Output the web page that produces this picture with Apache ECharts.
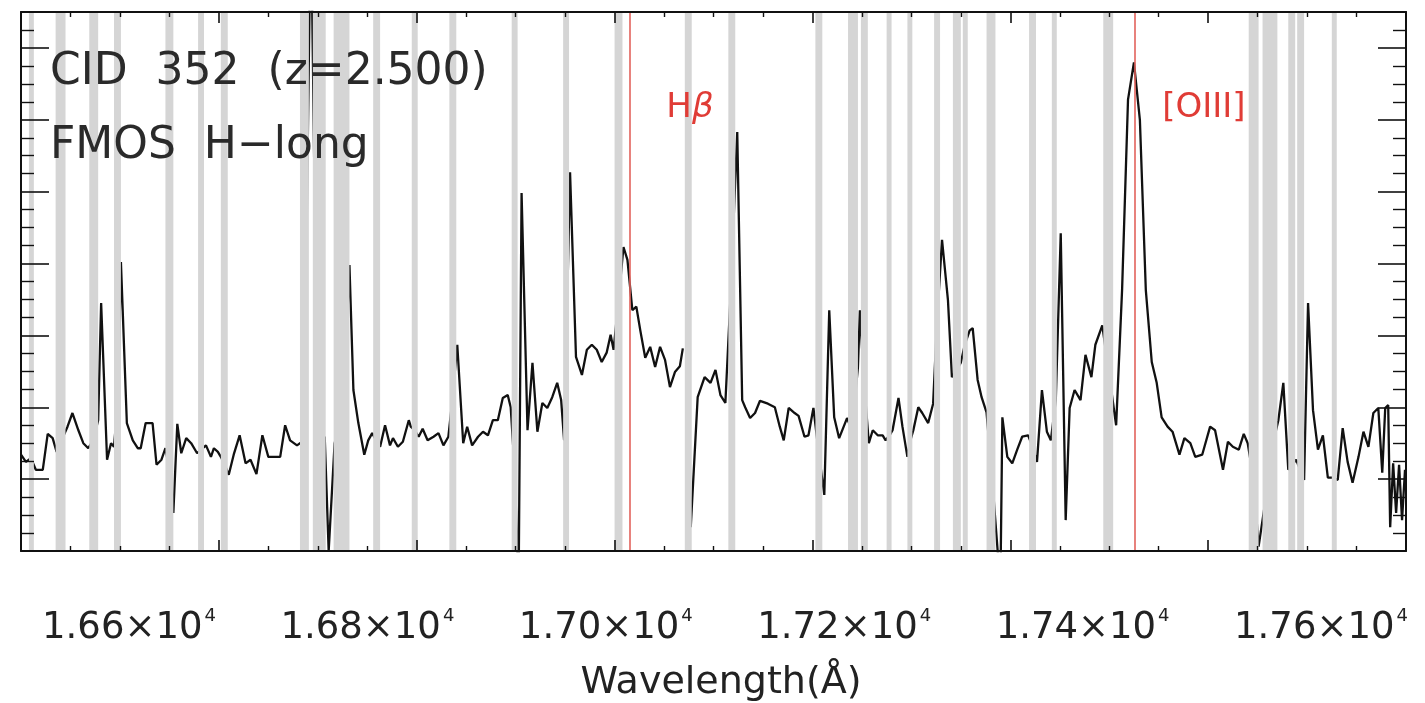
<!DOCTYPE html>
<html>
<head>
<meta charset="utf-8">
<script src="https://cdn.jsdelivr.net/npm/echarts@6/dist/echarts.min.js"></script>
<style>
  html, body { margin: 0; padding: 0; background: #fff; }
  #chart { width: 1425px; height: 703px; }
</style>
</head>
<body>
<div id="chart"></div>
<script>
// FMOS H-long spectrum of CID 352, observed wavelength in Angstrom
const wavelength = [
  16400, 16405, 16410, 16415, 16422, 16427, 16432, 16436, 16441, 16447,
  16452, 16458, 16463, 16468, 16473, 16478, 16481, 16487, 16491, 16494,
  16498, 16501, 16507, 16513, 16518, 16521, 16526, 16533, 16537, 16542,
  16546, 16550, 16554, 16558, 16562, 16567, 16572, 16578, 16582, 16587,
  16592, 16595, 16599, 16602, 16606, 16610, 16615, 16621, 16627, 16632,
  16638, 16644, 16650, 16657, 16662, 16667, 16672, 16679, 16686, 16693,
  16700, 16707, 16711, 16717, 16723, 16726, 16732, 16736, 16741, 16747,
  16751, 16755, 16759, 16763, 16768, 16773, 16776, 16781, 16786, 16792,
  16794, 16798, 16802, 16806, 16811, 16817, 16822, 16827, 16832, 16836,
  16841, 16847, 16851, 16856, 16862, 16867, 16872, 16877, 16882, 16887,
  16892, 16895, 16899, 16903, 16906, 16912, 16917, 16922, 16927, 16932,
  16937, 16942, 16946, 16949, 16955, 16961, 16967, 16972, 16977, 16982,
  16987, 16992, 16996, 16999, 17004, 17009, 17013, 17018, 17022, 17026,
  17031, 17036, 17041, 17046, 17051, 17056, 17061, 17066, 17069, 17073,
  17077, 17084, 17091, 17097, 17102, 17107, 17112, 17117, 17124, 17129,
  17132, 17137, 17142, 17147, 17155, 17162, 17167, 17171, 17176, 17182,
  17186, 17192, 17196, 17201, 17206, 17212, 17217, 17222, 17227, 17235,
  17240, 17246, 17248, 17252, 17257, 17261, 17266, 17271, 17274, 17278,
  17281, 17287, 17291, 17296, 17299, 17302, 17307, 17311, 17317, 17322,
  17326, 17331, 17337, 17341, 17346, 17350, 17354, 17359, 17362, 17367,
  17371, 17376, 17381, 17390, 17392, 17397, 17402, 17407, 17412, 17418,
  17422, 17427, 17432, 17437, 17441, 17446, 17451, 17456, 17460, 17465,
  17471, 17476, 17482, 17486, 17493, 17507, 17513, 17519, 17525, 17531,
  17537, 17543, 17548, 17553, 17559, 17564, 17571, 17576, 17582, 17587,
  17594, 17602, 17607, 17615, 17620, 17625, 17631, 17636, 17640, 17646,
  17651, 17658, 17664, 17671, 17676, 17681, 17685, 17689, 17693, 17697,
  17701, 17706, 17711, 17716, 17721, 17726, 17731, 17736, 17741, 17746,
  17752, 17757, 17762, 17767, 17772, 17776, 17779, 17782, 17784, 17787,
  17790, 17793, 17796, 17799
];
// flux density (arbitrary units); null marks a gap in the extraction
const flux = [
  1.34, 1.24, 1.29, 1.13, 1.13, 1.63, 1.57, 1.38, 1.54, 1.73,
  1.92, 1.68, 1.50, 1.43, 1.54, 1.82, 3.45, 1.27, 1.50, 1.45,
  2.10, 4.02, 1.78, 1.54, 1.43, 1.43, 1.78, 1.78, 1.20, 1.27,
  1.43, 1.13, 0.53, 1.77, 1.36, 1.57, 1.50, 1.36, 1.41, 1.47,
  1.31, 1.43, 1.38, 1.31, 1.20, 1.06, 1.34, 1.61, 1.22, 1.27,
  1.07, 1.61, 1.31, 1.31, 1.31, 1.75, 1.54, 1.47, 1.54, 9.00,
  1.54, 1.59, 0.00, 1.50, 1.82, 1.93, 3.98, 2.24, 1.78, 1.34,
  1.54, 1.64, 1.54, 1.45, 1.75, 1.47, 1.57, 1.45, 1.52, 1.82,
  1.73, 1.68, 1.59, 1.70, 1.54, 1.59, 1.64, 1.47, 1.59, 2.10,
  2.87, 1.50, 1.73, 1.47, 1.59, 1.66, 1.61, 1.82, 1.82, 2.13,
  2.17, 2.00, 1.13, -0.50, 4.98, 1.68, 2.62, 1.66, 2.06, 1.99,
  2.14, 2.34, 2.10, 1.54, 5.27, 2.70, 2.45, 2.80, 2.87, 2.80,
  2.63, 2.76, 3.01, 2.80, 3.49, 4.23, 4.05, 3.35, 3.40, 3.07,
  2.69, 2.84, 2.56, 2.84, 2.66, 2.28, 2.49, 2.57, 2.82, null,
  0.33, 2.14, 2.42, 2.34, 2.52, 2.17, 2.06, 3.49, 5.83, 2.10,
  2.00, 1.85, 1.92, 2.09, 2.05, 2.00, 1.73, 1.54, 1.99, 1.92,
  1.88, 1.59, 1.61, 1.99, 1.41, 0.78, 3.35, 1.86, 1.57, 1.85,
  1.68, 2.56, 3.35, 2.38, 1.50, 1.68, 1.61, 1.61, 1.54, 1.61,
  1.68, 2.13, 1.73, 1.31, 1.54, 1.68, 2.00, 1.92, 1.78, 2.05,
  3.21, 4.33, 3.49, 2.42, 2.52, 2.62, 2.87, 3.07, 3.10, 2.38,
  2.14, 1.93, 1.13, -0.50, 1.86, 1.31, 1.22, 1.41, 1.59, 1.61,
  1.47, 1.24, 2.24, 1.66, 1.54, 2.10, 4.42, 0.43, 1.99, 2.24,
  2.10, 2.73, 2.42, 2.87, 3.14, 1.75, 3.63, 6.28, 6.80, 6.00,
  3.63, 2.63, 2.34, 1.86, 1.73, 1.66, 1.34, 1.57, 1.50, 1.31,
  1.34, 1.73, 1.68, 1.13, 1.52, 1.45, 1.41, 1.63, 1.50, 0.99,
  0.06, 0.71, 1.41, 1.82, 2.34, 1.13, 1.20, 1.27, 1.13, 0.99,
  3.45, 1.96, 1.41, 1.61, 1.02, 1.02, 0.99, 1.71, 1.24, 0.95,
  1.31, 1.66, 1.45, 1.92, 1.99, 1.09, 1.99, 2.03, 0.33, 1.22,
  0.53, 1.20, 0.43, 1.13
];
// wavelength ranges masked for OH sky lines [start, end]
const maskBands = [
  [16408, 16413], [16435, 16445], [16469, 16478], [16494, 16501], [16546, 16554],
  [16579, 16585], [16602, 16609], [16682, 16691], [16695, 16708], [16716, 16732],
  [16756, 16763], [16795, 16801], [16833, 16840], [16896, 16902], [16948, 16954],
  [17000, 17008], [17071, 17078], [17115, 17122], [17203, 17210], [17236, 17246],
  [17249, 17256], [17275, 17280], [17296, 17301], [17323, 17329], [17342, 17350],
  [17352, 17357], [17376, 17385], [17419, 17426], [17442, 17447], [17494, 17504],
  [17641, 17651], [17655, 17670], [17681, 17688], [17690, 17697], [17725, 17730]
];
// expected line positions at z = 2.500
const emissionLines = [
  { label: 'H', greek: 'β', wave: 17015.6, dx: 60 },
  { label: '[OIII]', greek: '', wave: 17526, dx: 69 }
];
const tickValues = [16600, 16800, 17000, 17200, 17400, 17600];
const titleLines = ['CID  352  (z=2.500)', 'FMOS  H\u2212long'];

const FONT = 'DejaVu Sans';
const RED_LINE = '#e2625c';
const RED_TEXT = '#e03c36';
const X_MIN = 16400, X_MAX = 17800, Y_MIN = 0, Y_MAX = 7.5;

const chart = echarts.init(document.getElementById('chart'), null, { renderer: 'canvas' });

const spectrum = wavelength.map((w, i) => [w, flux[i] === null ? '-' : flux[i]]);

const frameAxis = (pos, majorLen, minorLen) => {
  const vertical = pos === 'left' || pos === 'right';
  return {
    type: 'value', position: pos,
    min: vertical ? Y_MIN : X_MIN, max: vertical ? Y_MAX : X_MAX,
    interval: vertical ? 1 : 200,
    z: 10,
    axisLine: { show: true, onZero: false, lineStyle: { color: '#111', width: 2 } },
    axisTick: { show: true, inside: true, length: majorLen, lineStyle: { color: '#111', width: 1.6 } },
    minorTick: { show: true, splitNumber: 4, length: minorLen, lineStyle: { color: '#111', width: 1.4 } },
    axisLabel: { show: false },
    splitLine: { show: false }
  };
};

const option = {
  animation: false,
  backgroundColor: '#ffffff',
  grid: { left: 21, top: 12, width: 1385, height: 539, containLabel: false, outerBoundsMode: 'none' },
  xAxis: [
    frameAxis('bottom', 11, 5),
    frameAxis('top', 11, 5),
    {
      type: 'value', position: 'bottom', min: 16509.4, max: 17671.3,
      axisLine: { show: false }, axisTick: { show: false }, splitLine: { show: false },
      axisLabel: {
        show: true, margin: 56, customValues: tickValues,
        formatter: v => '{m|' + (v / 1e4).toFixed(2) + '×10}{s|4}',
        rich: {
          m: { fontFamily: FONT, fontSize: 37, color: '#222', lineHeight: 42 },
          s: { fontFamily: FONT, fontSize: 18, color: '#222', lineHeight: 42, verticalAlign: 'top', padding: [0, 0, 16, 2] }
        }
      },
      name: 'Wavelength(Å)', nameLocation: 'middle', nameGap: 113,
      nameTextStyle: { fontFamily: FONT, fontSize: 38, color: '#222', padding: [0, 0, 0, 15] }
    }
  ],
  yAxis: [frameAxis('left', 28, 13), frameAxis('right', 28, 13)],
  series: [
    {
      type: 'line', name: 'spectrum', data: spectrum, xAxisIndex: 0, yAxisIndex: 0,
      showSymbol: false, connectNulls: false, clip: true, z: 2,
      lineStyle: { color: '#111', width: 2.3 },
      markLine: {
        silent: true, symbol: ['none', 'none'], z: 6,
        label: { show: false },
        lineStyle: { color: RED_LINE, width: 1.6, type: 'solid' },
        data: emissionLines.map(l => ({ xAxis: l.wave }))
      }
    },
    {
      type: 'custom', name: 'masked', data: maskBands, xAxisIndex: 0, yAxisIndex: 0, z: 4,
      encode: { x: [0, 1] }, silent: true,
      renderItem: (params, api) => {
        const a = api.coord([api.value(0), Y_MAX]);
        const b = api.coord([api.value(1), Y_MIN]);
        return {
          type: 'rect',
          shape: { x: a[0], y: a[1], width: b[0] - a[0], height: b[1] - a[1] },
          style: { fill: '#d5d5d5' }
        };
      }
    }
  ]
};
chart.setOption(option);

// annotations: target name and the emission-line labels
const labels = [
  { type: 'text', left: 50, top: 51, z: 20,
    style: { text: titleLines[0], font: '44px "' + FONT + '"', fill: '#2a2a2a' } },
  { type: 'text', left: 50, top: 125, z: 20,
    style: { text: titleLines[1], font: '44px "' + FONT + '"', fill: '#2a2a2a' } }
];
emissionLines.forEach(l => {
  const px = chart.convertToPixel({ xAxisIndex: 0 }, l.wave);
  labels.push({
    type: 'text', x: px + l.dx, y: 91, z: 20,
    style: {
      text: l.greek ? '{r|' + l.label + '}{g|' + l.greek + '}' : '{r|' + l.label + '}',
      align: 'center', verticalAlign: 'top',
      rich: {
        r: { fontFamily: FONT, fontSize: 34, fill: RED_TEXT },
        g: { fontFamily: FONT, fontSize: 34, fill: RED_TEXT, fontStyle: 'italic' }
      }
    }
  });
});
chart.setOption({ graphic: labels });
</script>
</body>
</html>
